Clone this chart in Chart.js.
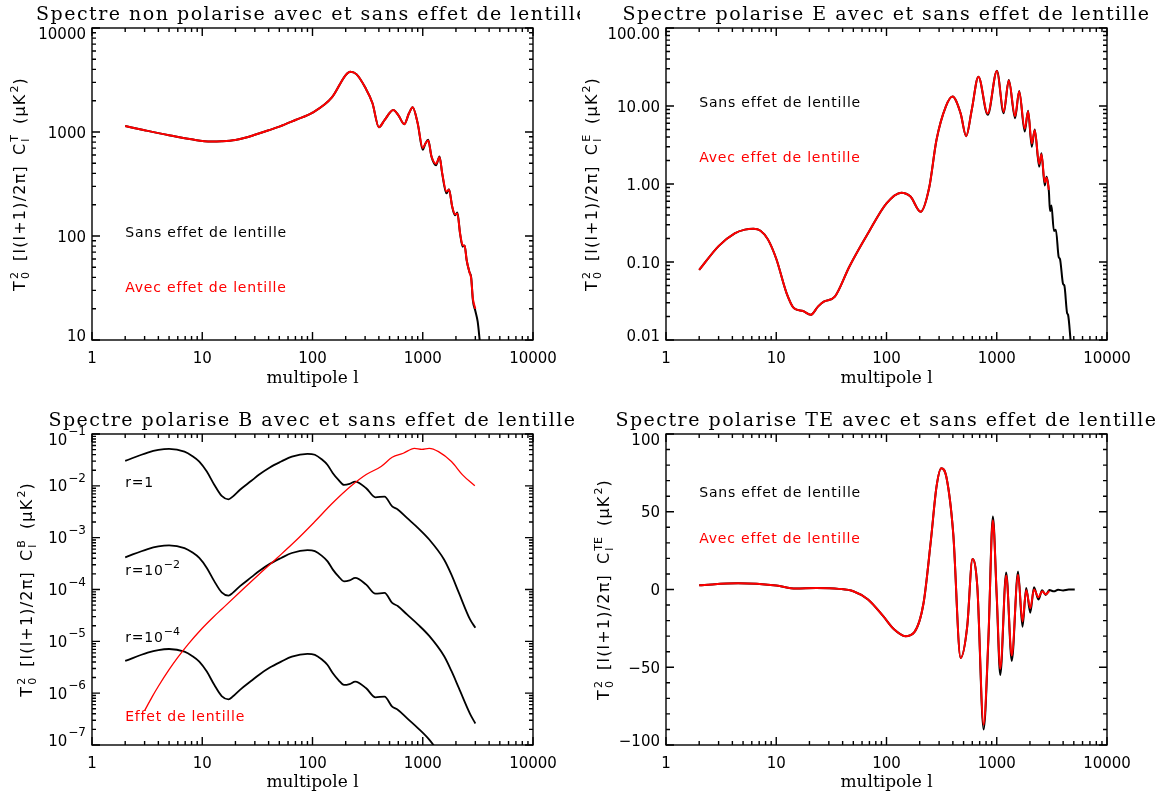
<!DOCTYPE html>
<html>
<head>
<meta charset="utf-8">
<script src="https://cdn.jsdelivr.net/npm/chart.js@4.4.1/dist/chart.umd.min.js"></script>
<style>
  html, body { margin: 0; padding: 0; background: #fff; }
  #wrap { position: relative; width: 1159px; height: 797px; overflow: hidden; }
  canvas { position: absolute; }
</style>
</head>
<body>
<div id="wrap">
  <canvas id="ttChart" width="580" height="398" style="left:0;top:0"></canvas>
  <canvas id="eeChart" width="579" height="398" style="left:580px;top:0"></canvas>
  <canvas id="bbChart" width="580" height="399" style="left:0;top:398px"></canvas>
  <canvas id="teChart" width="579" height="399" style="left:580px;top:398px"></canvas>
</div>
<script>
// multipole axis (shared)
const multipoleTicks = [1, 10, 100, 1000, 10000];
const multipoleLabels = ['1', '10', '100', '1000', '10000'];

// temperature spectrum
const ttEll = [2, 3, 5, 8, 12, 15, 20, 25, 30, 40, 50, 70, 100, 150, 200, 220, 250, 300, 350, 400, 450,
  540, 600, 680, 750, 810, 900, 1000, 1060, 1120, 1200, 1320, 1420, 1500, 1640, 1730, 1850, 1960, 2060,
  2180, 2300, 2400, 2500, 2650, 2750, 2850, 3000, 3150, 3300];
const ttUnlensed = [1142, 1040, 930, 850, 810, 815, 838, 885, 940, 1040, 1125, 1304, 1535, 2150, 3530,
  3800, 3600, 2690, 1890, 1110, 1300, 1630, 1456, 1190, 1513, 1730, 1210, 675, 778, 840, 580, 480, 580,
  400, 257, 282, 191, 158, 168, 106, 79, 81, 58.8, 45, 40, 24, 19, 15, 9.5];
const ttLensed = [1142, 1040, 930, 850, 810, 815, 838, 885, 940, 1040, 1125, 1304, 1535, 2150, 3530,
  3800, 3600, 2690, 1890, 1110, 1300, 1630, 1456, 1190, 1513, 1730, 1210, 700, 780, 830, 585, 495, 572,
  405, 268, 278, 192, 162, 165, 106, 82, 80, 59, 45, 39, 25, 20];
const ttYTicks = [10, 100, 1000, 10000];
const ttYLabels = ['10', '100', '1000', '10000'];

// E polarisation
const eeEll = [2, 3, 4.2, 5.2, 6.2, 7.2, 8.4, 10, 12.4, 14.5, 17.5, 20.5, 24, 27, 34, 46, 68, 100, 136,
  165, 204, 244, 284, 345, 397, 470, 528, 593, 682, 828, 1004, 1155, 1286, 1466, 1597, 1794, 1924,
  2078, 2211, 2426, 2543, 2725, 2831, 2972, 3040, 3133, 3300, 3437, 3650, 3741, 4000, 4102, 4350,
  4436, 4700];
const eeUnlensed = [0.079, 0.160, 0.233, 0.260, 0.266, 0.252, 0.195, 0.11, 0.040, 0.0255, 0.0235, 0.021,
  0.027, 0.031, 0.036, 0.087, 0.233, 0.565, 0.775, 0.69, 0.44, 0.9, 3.66, 9.8, 13.2, 8.05, 4.1, 8.9,
  23.8, 7.7, 28.4, 8.05, 21.5, 6.95, 15.6, 4.7, 8.7, 3.0, 5.0, 1.67, 2.47, 0.96, 1.24, 0.80, 0.45,
  0.53, 0.25, 0.26, 0.115, 0.11, 0.052, 0.05, 0.022, 0.021, 0.009];
const eeLensed = [0.079, 0.160, 0.233, 0.260, 0.266, 0.252, 0.195, 0.11, 0.040, 0.0255, 0.0235, 0.021,
  0.027, 0.031, 0.036, 0.087, 0.233, 0.565, 0.775, 0.69, 0.44, 0.9, 3.66, 9.8, 13.2, 8.05, 4.1, 8.9,
  23.8, 8.0, 28.0, 8.4, 21.2, 7.4, 15.3, 5.1, 8.5, 3.3, 4.9, 1.8, 2.4, 1.05, 1.2, 0.84];
const eeYTicks = [0.01, 0.1, 1, 10, 100];
const eeYLabels = ['0.01', '0.10', '1.00', '10.00', '100.00'];

// B polarisation (tensor modes for three r, plus lensing)
const bbEll = [2, 3.2, 4, 5, 6.9, 8.1, 9.4, 11, 12.85, 15, 17.3, 18.9, 22, 27.9, 32.6, 41, 52, 65, 90,
  105, 121, 137, 153, 172, 193, 217, 244, 307, 372, 450, 528, 593, 719, 908, 1145, 1560, 1820, 2128,
  2685, 3000];
const bbR1 = [0.0303, 0.0438, 0.0492, 0.0515, 0.0457, 0.0378, 0.0294, 0.0189, 0.0105, 0.0064, 0.0055,
  0.0062, 0.0084, 0.0125, 0.0163, 0.0226, 0.0294, 0.0367, 0.0415, 0.0398, 0.0326, 0.0253, 0.0175,
  0.013, 0.0104, 0.0109, 0.0121, 0.009, 0.006, 0.0062, 0.004, 0.0035, 0.0024, 0.00153, 0.00092,
  0.00038, 1.94e-4, 8.6e-5, 2.65e-5, 1.83e-5];
const bbR1em2 = [4.18e-4, 6.04e-4, 6.79e-4, 7.11e-4, 6.31e-4, 5.22e-4, 4.06e-4, 2.61e-4, 1.45e-4,
  8.8e-5, 7.6e-5, 8.6e-5, 1.16e-4, 1.73e-4, 2.25e-4, 3.12e-4, 4.06e-4, 5.06e-4, 5.73e-4, 5.49e-4,
  4.5e-4, 3.49e-4, 2.42e-4, 1.79e-4, 1.44e-4, 1.5e-4, 1.67e-4, 1.24e-4, 8.3e-5, 8.6e-5, 5.5e-5, 4.8e-5,
  3.3e-5, 2.1e-5, 1.27e-5, 5.2e-6, 2.68e-6, 1.25e-6, 4.0e-7, 2.6e-7];
const bbR1em4 = [4.18e-6, 6.04e-6, 6.79e-6, 7.11e-6, 6.31e-6, 5.22e-6, 4.06e-6, 2.61e-6, 1.45e-6,
  8.8e-7, 7.6e-7, 8.6e-7, 1.16e-6, 1.73e-6, 2.25e-6, 3.12e-6, 4.06e-6, 5.06e-6, 5.73e-6, 5.49e-6,
  4.5e-6, 3.49e-6, 2.42e-6, 1.79e-6, 1.44e-6, 1.5e-6, 1.67e-6, 1.24e-6, 8.3e-7, 8.6e-7, 5.5e-7, 4.8e-7,
  3.3e-7, 2.1e-7, 1.27e-7, 5.2e-8];
const bbLensEll = [3, 3.5, 4, 5, 6, 7.5, 10, 12.5, 15, 22, 32.6, 48, 70, 104, 153, 225, 307, 419, 528,
  666, 840, 981, 1145, 1390, 1820, 2296, 2966];
const bbLensing = [4.6e-7, 8.4e-7, 1.36e-6, 2.84e-6, 4.9e-6, 8.95e-6, 1.79e-5, 2.89e-5, 4.16e-5, 8.93e-5,
  1.95e-4, 4.1e-4, 8.6e-4, 2.0e-3, 4.7e-3, 0.0100, 0.0165, 0.0236, 0.0355, 0.0425, 0.053, 0.0507,
  0.053, 0.0457, 0.0294, 0.0163, 0.01];
const bbYTicks = [1e-7, 1e-6, 1e-5, 1e-4, 1e-3, 1e-2, 1e-1];
const bbYExp = ['\u22127', '\u22126', '\u22125', '\u22124', '\u22123', '\u22122', '\u22121'];

// TE cross spectrum
const teEll = [2, 4.5, 10, 15, 23, 37, 50, 68, 93, 117, 148, 179, 217, 253, 284, 314, 350, 403, 470,
  540, 602, 666, 760, 840, 922, 1000, 1076, 1218, 1368, 1560, 1712, 1850, 2014, 2178, 2388, 2580,
  2780, 3000, 3300, 3600, 4000, 4500, 5100];
const teUnlensed = [2.8, 4.0, 2.6, 0.6, 0.9, 0.4, -1.1, -6.4, -17, -25.6, -30, -27.4, -8.5, 32, 66, 78,
  72, 36, -44, -23.5, 19.6, 2, -90, -32, 47, -5, -55, 11, -46, 11.5, -24, 1, -15, 1.5, -6.5, -0.5,
  -3.5, -0.4, -1.2, -0.2, -0.6, 0, 0];
const teLensed = [2.8, 4.0, 2.6, 0.6, 0.9, 0.4, -1.1, -6.4, -17, -25.6, -30, -27.4, -8.5, 32, 66, 78,
  72, 36, -44, -23.5, 19.6, 2, -87, -31, 44.5, -4, -51, 9, -42.5, 9.5, -20.5, -0.5, -12, 0, -5, -1.2,
  -3, -1];
const teYTicks = [-100, -50, 0, 50, 100];
const teYLabels = ['\u2212100', '\u221250', '0', '50', '100'];

const SANS = '"DejaVu Sans", sans-serif';
const SERIF = '"DejaVu Serif", serif';

function logMarks(min, max) {
  const out = [];
  for (let e = Math.floor(Math.log10(min)); e <= Math.ceil(Math.log10(max)); e++) {
    for (let k = 1; k <= 9; k++) {
      const v = k * Math.pow(10, e);
      if (v >= min * 0.999 && v <= max * 1.001) out.push({ v, major: k === 1 });
    }
  }
  return out;
}

function linMarks(min, max) {
  const out = [];
  for (let v = min; v <= max; v += 10) out.push({ v, major: v % 50 === 0 });
  return out;
}

function drawYTitle(ctx, bx, cy, sym) {
  const big = '16px ' + SANS, small = '11px ' + SANS;
  const runs = [
    { t: 'T' }, { sub: '0', sup: '2' }, { gap: 10 },
    { t: '[l(l+1)/2\u03c0]' }, { gap: 10 },
    { t: 'C' }, { sub: 'l', sup: sym }, { gap: 10 },
    { t: '(\u03bcK' }, { sup: '2' }, { t: ')' }
  ];
  ctx.save();
  ctx.translate(bx, cy);
  ctx.rotate(-Math.PI / 2);
  ctx.fillStyle = '#000';
  ctx.textAlign = 'left';
  ctx.textBaseline = 'alphabetic';
  const widths = runs.map(r => {
    if (r.gap) return r.gap;
    if (r.t) { ctx.font = big; ctx.letterSpacing = '1.2px'; return ctx.measureText(r.t).width; }
    ctx.font = small; ctx.letterSpacing = '0px';
    return Math.max(r.sub ? ctx.measureText(r.sub).width : 0, r.sup ? ctx.measureText(r.sup).width : 0) + 2;
  });
  let pos = -widths.reduce((s, w) => s + w, 0) / 2;
  runs.forEach((r, i) => {
    if (r.t) {
      ctx.font = big; ctx.letterSpacing = '1.2px';
      ctx.fillText(r.t, pos, 0);
    } else if (!r.gap) {
      ctx.font = small; ctx.letterSpacing = '0px';
      if (r.sub) ctx.fillText(r.sub, pos + 1, 4);
      if (r.sup) ctx.fillText(r.sup, pos + 1, -7);
    }
    pos += widths[i];
  });
  ctx.restore();
}

const idlFrame = {
  id: 'idlFrame',
  afterDatasetsDraw(chart, args, o) {
    const { ctx, chartArea: a } = chart;
    const xs = chart.scales.x, ys = chart.scales.y;
    ctx.save();
    ctx.strokeStyle = '#000';
    ctx.lineWidth = 1.4;
    ctx.strokeRect(a.left, a.top, a.right - a.left, a.bottom - a.top);
    ctx.beginPath();
    logMarks(xs.min, xs.max).forEach(m => {
      const p = xs.getPixelForValue(m.v), len = m.major ? 8 : 4;
      ctx.moveTo(p, a.bottom); ctx.lineTo(p, a.bottom - len);
      ctx.moveTo(p, a.top); ctx.lineTo(p, a.top + len);
    });
    const yMarks = ys.type === 'logarithmic' ? logMarks(ys.min, ys.max) : linMarks(ys.min, ys.max);
    yMarks.forEach(m => {
      const p = ys.getPixelForValue(m.v), len = m.major ? 8 : 4;
      ctx.moveTo(a.left, p); ctx.lineTo(a.left + len, p);
      ctx.moveTo(a.right, p); ctx.lineTo(a.right - len, p);
    });
    ctx.stroke();

    // y tick labels (IDL keeps the end labels inside the axis range)
    ctx.fillStyle = '#000';
    ctx.textBaseline = 'alphabetic';
    ctx.textAlign = 'right';
    o.yTicks.forEach((v, i) => {
      let p = ys.getPixelForValue(v);
      if (i === 0) p -= 5;
      if (i === o.yTicks.length - 1) p += 5;
      const right = a.left - 6;
      if (o.yExp) {
        ctx.font = '12px ' + SANS;
        const w = ctx.measureText(o.yExp[i]).width;
        ctx.fillText(o.yExp[i], right, p - 4);
        ctx.font = '15px ' + SANS;
        ctx.fillText('10', right - w - 1, p + 5.5);
      } else {
        ctx.font = '15px ' + SANS;
        ctx.fillText(o.yLabels[i], right, p + 5.5);
      }
    });

    // in-plot notes
    ctx.textAlign = 'left';
    o.notes.forEach(n => {
      const px = xs.getPixelForValue(n.x), py = ys.getPixelForValue(n.y) + 5;
      ctx.fillStyle = n.color;
      ctx.font = '14px ' + SANS;
      ctx.letterSpacing = '0.8px';
      ctx.fillText(n.text, px, py);
      if (n.sup) {
        const w = ctx.measureText(n.text).width;
        ctx.font = '11px ' + SANS;
        ctx.letterSpacing = '0px';
        ctx.fillText(n.sup, px + w, py - 7);
      }
    });

    // panel title
    ctx.fillStyle = '#000';
    ctx.font = '19px ' + SERIF;
    ctx.letterSpacing = '1.5px';
    ctx.textAlign = 'center';
    ctx.fillText(o.title, (a.left + a.right) / 2, a.top - 8.5);
    ctx.restore();

    drawYTitle(ctx, o.yTitleX, (a.top + a.bottom) / 2, o.sym);
  }
};

function series(ell, vals, color, width) {
  return {
    data: vals.map((v, i) => ({ x: ell[i], y: v })),
    borderColor: color,
    borderWidth: width,
    pointRadius: 0,
    fill: false,
    clip: 0,
    cubicInterpolationMode: 'monotone'
  };
}

function makeChart(id, box, yScale, datasets, frame) {
  const canvas = document.getElementById(id);
  const [left, top, right, bottom] = box;
  return new Chart(canvas.getContext('2d'), {
    type: 'line',
    data: { datasets },
    plugins: [idlFrame],
    options: {
      responsive: false,
      animation: false,
      devicePixelRatio: 1,
      events: [],
      layout: { padding: { left: 0, top: top, right: canvas.width - right, bottom: 0 } },
      plugins: { legend: { display: false }, tooltip: { enabled: false }, idlFrame: frame },
      scales: {
        x: {
          type: 'logarithmic',
          min: 1,
          max: 10000,
          grid: { display: false, drawTicks: false },
          border: { display: false },
          afterBuildTicks: s => { s.ticks = multipoleTicks.map(v => ({ value: v })); },
          afterFit: s => { s.height = canvas.height - bottom; },
          ticks: {
            autoSkip: false,
            maxRotation: 0,
            padding: 10,
            color: '#000',
            font: { family: SANS, size: 15 },
            callback: (v, i) => multipoleLabels[i]
          },
          title: {
            display: true,
            text: 'multipole l',
            color: '#000',
            font: { family: SERIF, size: 17 },
            padding: { top: 0, bottom: frame.xTitlePad }
          }
        },
        y: Object.assign({
          grid: { display: false, drawTicks: false },
          border: { display: false },
          ticks: { display: false },
          afterFit: s => { s.width = left; }
        }, yScale)
      }
    }
  });
}

makeChart('ttChart', [92, 28, 533, 340],
  { type: 'logarithmic', min: 10, max: 10000 },
  [series(ttEll, ttLensed, '#ff0000', 2), series(ttEll, ttUnlensed, '#000000', 2)],
  {
    title: 'Spectre non polarise avec et sans effet de lentille', sym: 'T', yTitleX: 25, xTitlePad: 9,
    yTicks: ttYTicks, yLabels: ttYLabels,
    notes: [
      { x: 2, y: 109, text: 'Sans effet de lentille', color: '#000' },
      { x: 2, y: 32.5, text: 'Avec effet de lentille', color: '#ff0000' }
    ]
  });

makeChart('eeChart', [86, 28, 527, 340],
  { type: 'logarithmic', min: 0.01, max: 100 },
  [series(eeEll, eeLensed, '#ff0000', 2), series(eeEll, eeUnlensed, '#000000', 2)],
  {
    title: 'Spectre polarise E avec et sans effet de lentille', sym: 'E', yTitleX: 17, xTitlePad: 9,
    yTicks: eeYTicks, yLabels: eeYLabels,
    notes: [
      { x: 2, y: 11.4, text: 'Sans effet de lentille', color: '#000' },
      { x: 2, y: 2.24, text: 'Avec effet de lentille', color: '#ff0000' }
    ]
  });

makeChart('bbChart', [92, 36, 533, 347],
  { type: 'logarithmic', min: 1e-7, max: 1e-1 },
  [series(bbLensEll, bbLensing, '#ff0000', 1.3), series(bbEll, bbR1, '#000000', 1.8),
   series(bbEll, bbR1em2, '#000000', 1.8), series(bbEll, bbR1em4, '#000000', 1.8)],
  {
    title: 'Spectre polarise B avec et sans effet de lentille', sym: 'B', yTitleX: 32, xTitlePad: 4,
    yTicks: bbYTicks, yExp: bbYExp,
    notes: [
      { x: 2, y: 0.0121, text: 'r=1', color: '#000' },
      { x: 2, y: 2.43e-4, text: 'r=10', sup: '\u22122', color: '#000' },
      { x: 2, y: 1.2e-5, text: 'r=10', sup: '\u22124', color: '#000' },
      { x: 2, y: 3.66e-7, text: 'Effet de lentille', color: '#ff0000' }
    ]
  });

makeChart('teChart', [86, 36, 527, 347],
  { type: 'linear', min: -100, max: 100 },
  [series(teEll, teLensed, '#ff0000', 2), series(teEll, teUnlensed, '#000000', 2)],
  {
    title: 'Spectre polarise TE avec et sans effet de lentille', sym: 'TE', yTitleX: 29, xTitlePad: 4,
    yTicks: teYTicks, yLabels: teYLabels,
    notes: [
      { x: 2, y: 62.7, text: 'Sans effet de lentille', color: '#000' },
      { x: 2, y: 32.8, text: 'Avec effet de lentille', color: '#ff0000' }
    ]
  });
</script>
</body>
</html>
